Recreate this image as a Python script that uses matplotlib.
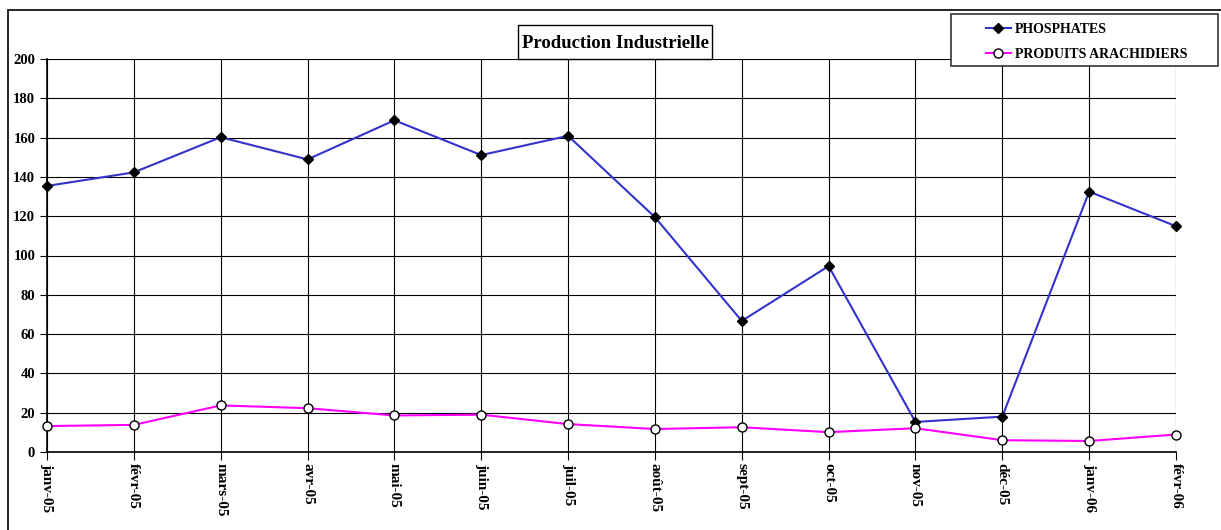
import matplotlib.pyplot as plt
from matplotlib.patches import Rectangle

months = ['janv-05', 'févr-05', 'mars-05', 'avr-05', 'mai-05', 'juin-05', 'juil-05',
          'août-05', 'sept-05', 'oct-05', 'nov-05', 'déc-05', 'janv-06', 'févr-06']
phosphates = [135.4, 142.3, 160.2, 148.9, 168.8, 151.1, 160.9,
              119.5, 66.7, 94.6, 15.3, 18.0, 132.5, 114.9]
arachides = [13.2, 13.8, 23.7, 22.3, 18.6, 19.0, 14.2,
             11.7, 12.6, 10.1, 12.1, 6.0, 5.6, 8.9]

plt.rcParams['font.family'] = ['Liberation Serif', 'DejaVu Serif']
plt.rcParams['font.weight'] = 'bold'

fig = plt.figure(figsize=(12.21, 5.30), dpi=100)
ax = fig.add_axes([47 / 1221, 1 - 452 / 530, 1129 / 1221, 393 / 530])

# outer chart frame
fig.patches.append(Rectangle((8 / 1221, -0.05), 1.2, 1 - 10 / 530 + 0.05,
                             transform=fig.transFigure, fill=False,
                             edgecolor='black', linewidth=1.2))

x = list(range(len(months)))
ax.plot(x, phosphates, color='#3333cc', linewidth=1.5, marker='D', markersize=5,
        markerfacecolor='black', markeredgecolor='black', label='PHOSPHATES',
        clip_on=False, zorder=3)
ax.plot(x, arachides, color='#ff00ff', linewidth=1.5, marker='o', markersize=6.5,
        markerfacecolor='white', markeredgecolor='black', label='PRODUITS ARACHIDIERS',
        clip_on=False, zorder=3)

ax.set_xlim(0, len(months) - 1)
ax.set_ylim(0, 200)
ax.set_yticks(range(0, 201, 20))
ax.set_xticks(x)
ax.set_xticklabels(months, rotation=-90, fontsize=11, fontweight='bold')
ax.tick_params(axis='y', labelsize=10.5, length=5, direction='out')
ax.tick_params(axis='x', length=6, direction='out', pad=2)
for lbl in ax.get_yticklabels():
    lbl.set_fontweight('bold')
ax.grid(True, color='black', linewidth=0.8)
ax.set_axisbelow(True)
for s in ['top', 'right']:
    ax.spines[s].set_visible(False)
ax.spines['left'].set_linewidth(1.2)
ax.spines['bottom'].set_linewidth(1.2)

# title box
fig.patches.append(Rectangle((518 / 1221, 1 - 59 / 530), 194 / 1221, 34 / 530,
                             transform=fig.transFigure, facecolor='white',
                             edgecolor='black', linewidth=1, zorder=5))
fig.text(616 / 1221, 1 - 43 / 530, 'Production Industrielle', ha='center', va='center',
         fontsize=13.5, fontweight='bold', zorder=6)

# legend box
fig.patches.append(Rectangle((951 / 1221, 1 - 66 / 530), 267 / 1221, 52 / 530,
                             transform=fig.transFigure, facecolor='white',
                             edgecolor='#333333', linewidth=1.2, zorder=5))
leg = fig.legend(loc='upper left', bbox_to_anchor=(976 / 1221, 1 - 13 / 530),
                 fontsize=10, frameon=False, borderpad=0.2,
                 handlelength=1.8, handletextpad=0.3, labelspacing=0.85)
leg.set_zorder(6)
for t in leg.get_texts():
    t.set_fontweight('bold')

fig.savefig('out.png', dpi=100)
